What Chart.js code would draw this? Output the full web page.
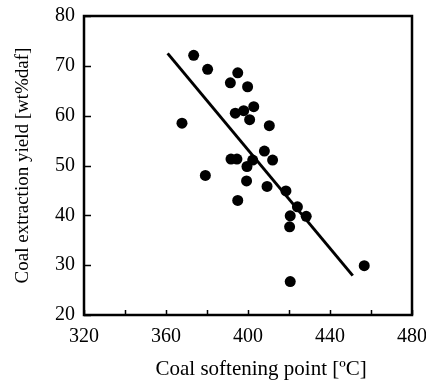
<!DOCTYPE html>
<html>
<head>
<meta charset="utf-8">
<script src="https://cdn.jsdelivr.net/npm/chart.js@4.4.0/dist/chart.umd.min.js"></script>
<style>
html,body{margin:0;padding:0;background:#fff;}
#wrap{width:426px;height:381px;position:relative;}
</style>
</head>
<body>
<div id="wrap"><canvas id="c" width="426" height="381"></canvas></div>
<script>
// Coal softening point [°C]
const softeningPoint = [373.5, 380.3, 395.0, 391.4, 399.8, 402.8, 397.9, 393.8, 400.8, 367.8,
  410.4, 408.0, 391.7, 394.6, 402.3, 412.0, 399.5, 379.2, 399.3, 409.3,
  418.5, 424.1, 420.6, 428.4, 420.3, 395.0, 456.7, 420.6];
// Coal extraction yield [wt%daf]
const extractionYield = [72.1, 69.3, 68.6, 66.6, 65.8, 61.8, 61.0, 60.5, 59.2, 58.5,
  58.0, 52.9, 51.3, 51.3, 51.1, 51.1, 49.8, 48.0, 46.9, 45.8,
  44.9, 41.7, 39.9, 39.8, 37.7, 43.0, 29.9, 26.7];
// Regression line end points
const fitX = [360.8, 451.1];
const fitY = [72.5, 27.9];
const xTicks = [320, 360, 400, 440, 480];
const yTicks = [20, 30, 40, 50, 60, 70, 80];

const FONT = "'Liberation Serif', 'Times New Roman', serif";

const framePlugin = {
  id: 'frame',
  afterDatasetsDraw(chart) {
    const {ctx, chartArea: a, scales} = chart;
    ctx.save();
    ctx.strokeStyle = '#000';
    ctx.lineWidth = 1.5;
    ctx.beginPath();
    scales.x.ticks.forEach(t => {
      const px = Math.round(scales.x.getPixelForValue(t.value)) + 0.5;
      ctx.moveTo(px, a.bottom);
      ctx.lineTo(px, a.bottom - 5);
    });
    scales.y.ticks.forEach(t => {
      const py = Math.round(scales.y.getPixelForValue(t.value)) + 0.5;
      ctx.moveTo(a.left, py);
      ctx.lineTo(a.left + 7, py);
    });
    ctx.stroke();
    ctx.lineWidth = 2.5;
    ctx.strokeRect(a.left, a.top, a.right - a.left, a.bottom - a.top);
    ctx.restore();
  }
};

new Chart(document.getElementById('c'), {
  type: 'scatter',
  data: {
    datasets: [
      {
        label: 'data',
        data: softeningPoint.map((x, i) => ({x, y: extractionYield[i]})),
        backgroundColor: '#000',
        borderColor: '#000',
        pointRadius: 5.5,
        pointHoverRadius: 5.5,
        borderWidth: 0
      },
      {
        label: 'fit',
        type: 'line',
        data: fitX.map((x, i) => ({x, y: fitY[i]})),
        borderColor: '#000',
        borderWidth: 3,
        pointRadius: 0,
        fill: false
      }
    ]
  },
  options: {
    responsive: false,
    animation: false,
    events: [],
    layout: {padding: {left: 0, right: 14, top: 16, bottom: 0}},
    plugins: {legend: {display: false}, tooltip: {enabled: false}},
    scales: {
      x: {
        type: 'linear',
        min: 320, max: 480,
        afterFit(s) { s.height = 66; s.paddingLeft = 0; s.paddingRight = 0; },
        grid: {display: true, drawOnChartArea: false, drawTicks: false},
        border: {display: false},
        ticks: {
          stepSize: 20,
          autoSkip: false,
          maxRotation: 0,
          padding: 10,
          color: '#000',
          font: {family: FONT, size: 20},
          callback: v => xTicks.includes(v) ? String(v) : ''
        },
        title: {
          display: true,
          text: '     Coal softening point [ºC]',
          color: '#000',
          font: {family: FONT, size: 21},
          padding: {top: 0, bottom: -1}
        }
      },
      y: {
        type: 'linear',
        min: 20, max: 80,
        afterFit(s) { s.width = 84; s.paddingTop = 0; s.paddingBottom = 0; },
        grid: {display: true, drawOnChartArea: false, drawTicks: false},
        border: {display: false},
        ticks: {
          stepSize: 10,
          padding: 9,
          color: '#000',
          font: {family: FONT, size: 20},
          callback: v => yTicks.includes(v) ? String(v) : ''
        },
        title: {
          display: true,
          text: 'Coal extraction yield [wt%daf]',
          color: '#000',
          font: {family: FONT, size: 19},
          padding: {top: 12, bottom: 0}
        }
      }
    }
  },
  plugins: [framePlugin]
});
</script>
</body>
</html>
